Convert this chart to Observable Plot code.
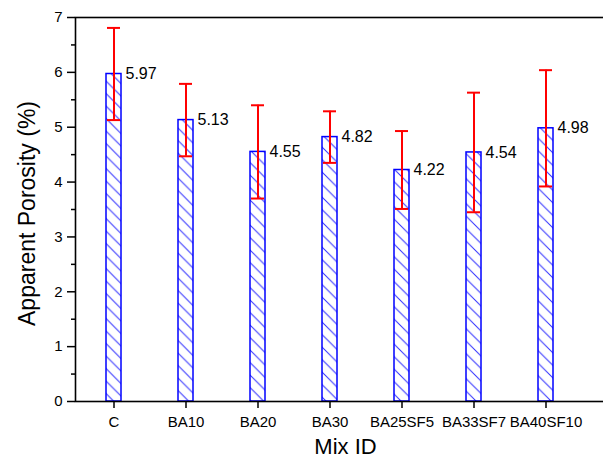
<!DOCTYPE html>
<html>
<head>
<meta charset="utf-8">
<script src="https://cdn.jsdelivr.net/npm/d3@7"></script>
<script src="https://cdn.jsdelivr.net/npm/@observablehq/plot@0.6"></script>
<style>
  html, body { margin: 0; padding: 0; background: white; overflow: hidden; }
  #chart svg { display: block; }
</style>
</head>
<body>
<div id="chart"></div>
<script>
const mixIds = ["C", "BA10", "BA20", "BA30", "BA25SF5", "BA33SF7", "BA40SF10"];
const porosity = [5.97, 5.13, 4.55, 4.82, 4.22, 4.54, 4.98];
const stdDev = [0.84, 0.66, 0.85, 0.47, 0.71, 1.09, 1.06];
const yMajorTicks = [0, 1, 2, 3, 4, 5, 6, 7];
const yMinorTicks = [0.5, 1.5, 2.5, 3.5, 4.5, 5.5, 6.5];
const xTitle = "Mix ID";
const yTitle = "Apparent Porosity (%)";

const data = mixIds.map((id, i) => ({id, value: porosity[i], sd: stdDev[i]}));

const red = "#ff0000";
const blue = "#0000ff";

const chart = Plot.plot({
  width: 603,
  height: 464,
  marginLeft: 75,
  marginRight: -12,
  marginTop: 17,
  marginBottom: 63,
  style: {fontFamily: "'Liberation Sans', Arial, sans-serif", fontSize: "15px", color: "black", background: "white"},
  x: {type: "band", domain: mixIds, range: [75, 583.6], paddingInner: 0.794, paddingOuter: 0.39, label: null},
  y: {domain: [0, 7], label: null},
  marks: [
    Plot.barY(data, {x: "id", y: "value", fill: "url(#hatch)", stroke: blue, strokeWidth: 1.5}),
    Plot.ruleX(data, {x: "id", y1: d => d.value - d.sd, y2: d => d.value + d.sd, stroke: red, strokeWidth: 2}),
    Plot.tickY(data, {x: "id", y: d => d.value + d.sd, stroke: red, strokeWidth: 2, insetLeft: 1, insetRight: 1}),
    Plot.tickY(data, {x: "id", y: d => d.value - d.sd, stroke: red, strokeWidth: 2, insetLeft: 1, insetRight: 1}),
    Plot.text(data, {x: "id", y: "value", text: d => d.value.toFixed(2), textAnchor: "start", dx: 11.5, fontSize: 16, fill: "black"}),
    Plot.frame({stroke: "black", strokeWidth: 1.6}),
    Plot.axisY({ticks: yMajorTicks, tickFormat: d => String(d), tickSize: 8, tickPadding: 5, strokeWidth: 1.5, fontSize: 15, label: null}),
    Plot.axisY({ticks: yMinorTicks, tickSize: 4, tickFormat: () => "", strokeWidth: 1.5, label: null}),
    Plot.axisX({tickSize: 7, tickPadding: 8, strokeWidth: 1.5, fontSize: 15, label: null}),
    Plot.text([xTitle], {frameAnchor: "bottom", dy: 52, fontSize: 22, fill: "black"}),
    Plot.text([yTitle], {frameAnchor: "left", textAnchor: "middle", dx: -48, dy: 4, rotate: -90, fontSize: 23, fill: "black"})
  ]
});

const defs = d3.select(chart).insert("defs", ":first-child");
const pat = defs.append("pattern")
  .attr("id", "hatch")
  .attr("patternUnits", "userSpaceOnUse")
  .attr("width", 12.5)
  .attr("height", 12.5);
pat.append("rect").attr("width", 12.5).attr("height", 12.5).attr("fill", "white");
pat.append("path")
  .attr("d", "M-3,-3L15.5,15.5M-3,9.5L3,15.5M9.5,-3L15.5,3")
  .attr("stroke", "#3030ff")
  .attr("stroke-width", 1);

document.getElementById("chart").appendChild(chart);
</script>
</body>
</html>
